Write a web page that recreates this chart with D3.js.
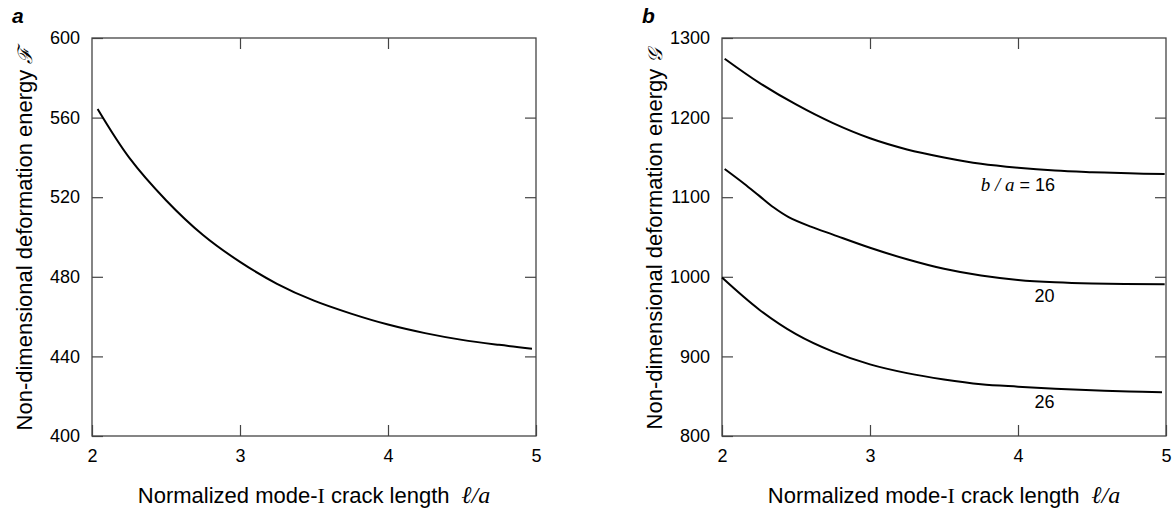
<!DOCTYPE html>
<html>
<head>
<meta charset="utf-8">
<script src="https://cdn.jsdelivr.net/npm/d3@7"></script>
<style>
  body { margin: 0; background: #fff; }
  text { font-family: "Liberation Sans", Arial, sans-serif; }
  .tick text { font-size: 18px; fill: #000; }
  .tick line { stroke: #444; stroke-width: 1.2; }
</style>
</head>
<body>
<div id="chart"></div>
<script>
const w = 1175;
const h = 508;

// x ticks shared by both panels
const xTicks = [2, 3, 4, 5];
const yTicksA = [400, 440, 480, 520, 560, 600];
const yTicksB = [800, 900, 1000, 1100, 1200, 1300];

// panel a : F vs l/a
const aX = [2.038, 2.25, 2.5, 2.75, 3.0, 3.25, 3.5, 3.75, 4.0, 4.25, 4.5, 4.75, 4.973];
const aY = [564.3, 540.0, 518.5, 501.0, 487.5, 476.5, 468.0, 461.5, 456.0, 451.7, 448.3, 445.8, 443.9];

// panel b : G vs l/a for b/a = 16, 20, 26
const b16X = [2.018, 2.25, 2.5, 2.75, 3.0, 3.25, 3.5, 3.75, 4.0, 4.25, 4.5, 4.75, 4.991];
const b16Y = [1274, 1244, 1216.5, 1193, 1174, 1160, 1150, 1142, 1137, 1133.5, 1131.5, 1130, 1129];
const b20X = [2.018, 2.15, 2.25, 2.35, 2.45, 2.6, 2.75, 3.0, 3.25, 3.5, 3.75, 4.0, 4.25, 4.5, 4.991];
const b20Y = [1135.5, 1117, 1102, 1087, 1075, 1063, 1053, 1036.5, 1022, 1010, 1001.5, 996, 993, 991.5, 990.6];
const b26X = [2.0, 2.25, 2.5, 2.75, 3.0, 3.25, 3.5, 3.75, 4.0, 4.25, 4.5, 4.75, 4.973];
const b26Y = [999, 959, 928, 906, 890, 879, 871, 865, 862, 859.5, 857.5, 856, 855];

const bLabels = [
  { x: 4.25, y: 1108, pre: "b / a", txt: " = 16", anchor: "end" },
  { x: 4.18, y: 968, pre: "", txt: "20", anchor: "middle" },
  { x: 4.18, y: 835, pre: "", txt: "26", anchor: "middle" }
];

const svg = d3.select('#chart')
  .append('svg')
  .attr('width', w)
  .attr('height', h);

const plotW = 444;
const plotH = 398;
const marginTop = 38;

function panel(left, letter, yTicks, yScript, series, labels) {
  const g = svg.append('g').attr('transform', 'translate(' + left + ',' + marginTop + ')');

  const xScale = d3.scaleLinear().domain([2, 5]).range([0, plotW]);
  const yScale = d3.scaleLinear().domain([yTicks[0], yTicks[yTicks.length - 1]]).range([plotH, 0]);

  const bottom = d3.axisBottom(xScale).tickValues(xTicks).tickFormat(d3.format('d'))
    .tickSizeInner(-11).tickSizeOuter(0).tickPadding(13);
  const topAx = d3.axisTop(xScale).tickValues(xTicks.slice(1, -1)).tickFormat('')
    .tickSizeInner(-11).tickSizeOuter(0);
  const leftAx = d3.axisLeft(yScale).tickValues(yTicks).tickFormat(d3.format('d'))
    .tickSizeInner(-11).tickSizeOuter(0).tickPadding(12);
  const rightAx = d3.axisRight(yScale).tickValues(yTicks.slice(1, -1)).tickFormat('')
    .tickSizeInner(-11).tickSizeOuter(0);

  g.append('g').attr('transform', 'translate(0,' + plotH + ')').call(bottom);
  g.append('g').call(topAx);
  g.append('g').call(leftAx);
  g.append('g').attr('transform', 'translate(' + plotW + ',0)').call(rightAx);
  g.selectAll('.domain').remove();
  g.selectAll('.tick text').attr('font-family', null).attr('font-size', null);

  g.append('rect')
    .attr('x', 0).attr('y', 0)
    .attr('width', plotW).attr('height', plotH)
    .attr('fill', 'none')
    .attr('stroke', '#444')
    .attr('stroke-width', 1.3);

  const line = d3.line()
    .x(d => xScale(d[0]))
    .y(d => yScale(d[1]))
    .curve(d3.curveCatmullRom.alpha(0.5));

  series.forEach(s => {
    g.append('path')
      .datum(s)
      .attr('d', line)
      .attr('fill', 'none')
      .attr('stroke', '#000')
      .attr('stroke-width', 2);
  });

  labels.forEach(l => {
    const t = g.append('text')
      .attr('x', xScale(l.x))
      .attr('y', yScale(l.y))
      .attr('text-anchor', l.anchor)
      .style('font-size', '18px');
    if (l.pre) {
      t.append('tspan')
        .style('font-family', '"Liberation Serif", "DejaVu Serif", serif')
        .style('font-style', 'italic')
        .style('font-size', '19px')
        .text(l.pre);
    }
    t.append('tspan').text(l.txt);
  });

  // panel letter
  svg.append('text')
    .attr('x', left - 80)
    .attr('y', 23)
    .style('font-size', '21px')
    .style('font-weight', 'bold')
    .style('font-style', 'italic')
    .text(letter);

  // y title
  const yt = svg.append('text')
    .attr('transform', 'translate(' + (left - 60) + ',' + (marginTop + plotH / 2 + 2) + ') rotate(-90)')
    .attr('text-anchor', 'middle')
    .style('font-size', '22px');
  yt.append('tspan').text('Non-dimensional deformation energy ');
  yt.append('tspan')
    .style('font-family', '"DejaVu Serif", serif')
    .style('font-style', 'italic')
    .style('font-size', '20px')
    .text(yScript);

  // x title
  const xt = svg.append('text')
    .attr('x', left + plotW / 2)
    .attr('y', 503)
    .attr('text-anchor', 'middle')
    .style('font-size', '22px');
  xt.append('tspan').text('Normalized mode-');
  xt.append('tspan').style('font-family', '"Liberation Serif", serif').text('I');
  xt.append('tspan').text(' crack length');
  xt.append('tspan')
    .attr('dx', 12)
    .style('font-family', '"Liberation Serif", "DejaVu Serif", serif')
    .style('font-style', 'italic')
    .style('font-size', '24px')
    .text('ℓ/a');
}

const zip = (xs, ys) => xs.map((x, i) => [x, ys[i]]);

panel(92, 'a', yTicksA, 'ℱ', [zip(aX, aY)], []);
panel(722, 'b', yTicksB, '𝒢', [zip(b16X, b16Y), zip(b20X, b20Y), zip(b26X, b26Y)], bLabels);
</script>
</body>
</html>
